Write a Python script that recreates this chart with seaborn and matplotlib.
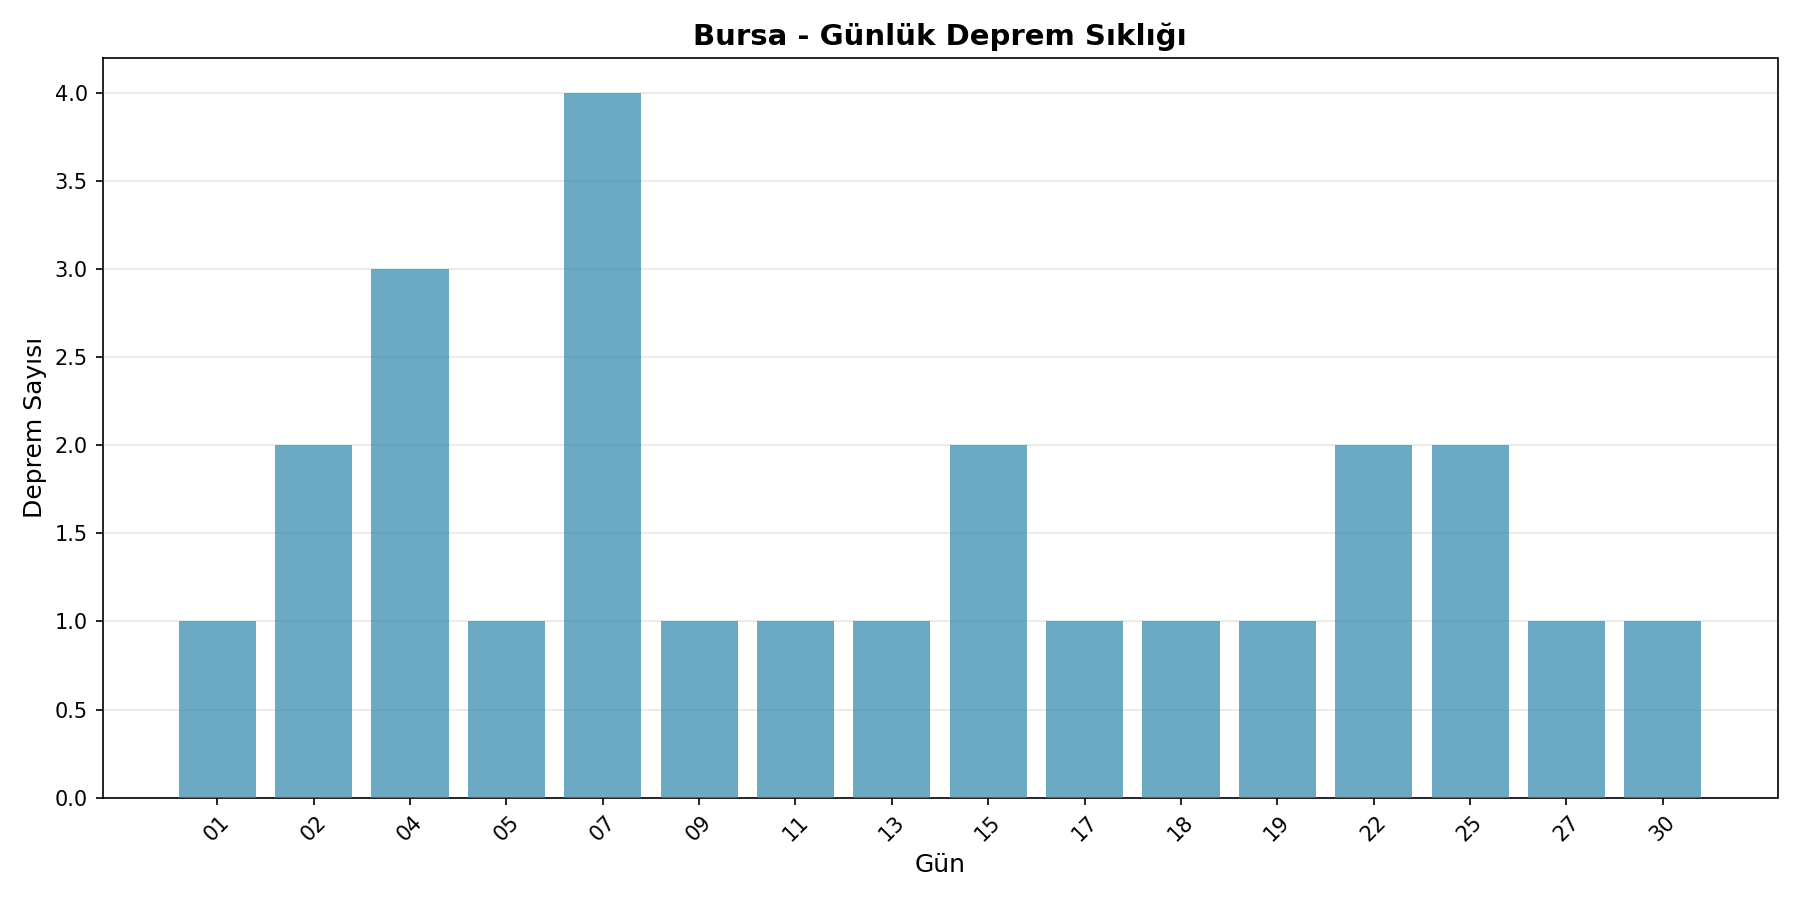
import numpy as np
import pandas as pd
from matplotlib import pyplot as plt
import seaborn as sns

# Günlük deprem sayıları
gunler = ["01", "02", "04", "05", "07", "09", "11", "13",
          "15", "17", "18", "19", "22", "25", "27", "30"]
sayilar = [1, 2, 3, 1, 4, 1, 1, 1, 2, 1, 1, 1, 2, 2, 1, 1]

df = pd.DataFrame({"gun": gunler, "sayi": sayilar})

plt.rcParams['font.family'] = ['DejaVu Sans']

fig, ax = plt.subplots(figsize=(12, 6), dpi=150)
sns.barplot(data=df, x="gun", y="sayi", color="#2E86AB", alpha=0.7,
            width=0.8, saturation=1, linewidth=0, ax=ax, zorder=3)
ax.set_xlim(-1.19, len(gunler) - 1 + 1.19)
ax.set_ylim(0, 4.2)

ax.set_title("Bursa - Günlük Deprem Sıklığı", fontsize=14, fontweight="bold")
ax.set_xlabel("Gün", fontsize=12)
ax.set_ylabel("Deprem Sayısı", fontsize=12)
ax.tick_params(axis="x", rotation=45)
ax.grid(axis="y", alpha=0.3)
ax.set_axisbelow(True)

plt.tight_layout()
plt.savefig("out.png", dpi=150)
